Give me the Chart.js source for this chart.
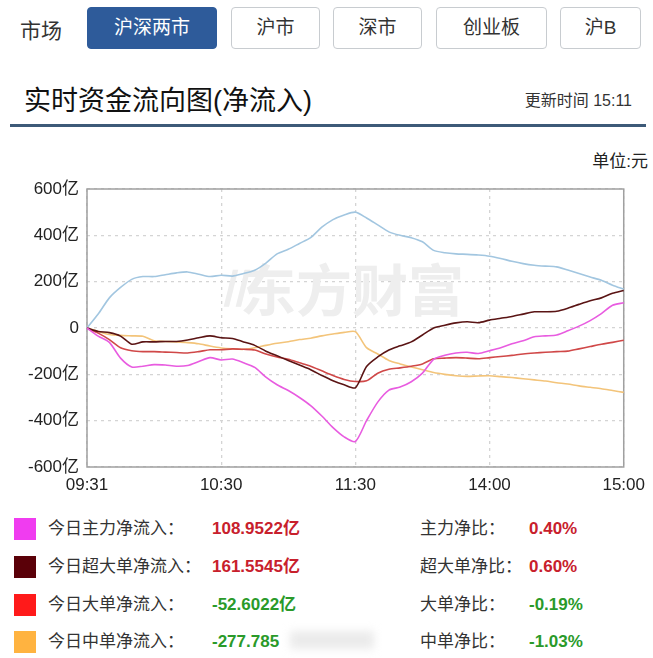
<!DOCTYPE html>
<html>
<head>
<meta charset="utf-8">
<script src="https://cdn.jsdelivr.net/npm/chart.js@4.4.1/dist/chart.umd.min.js"></script>
<style>
  body { margin: 0; width: 653px; height: 658px; background: #fff; font-family: "Liberation Sans", "Noto Sans CJK SC", sans-serif; color: #222; position: relative; overflow: hidden; }
  .abs { position: absolute; white-space: nowrap; }
  .btn { position: absolute; top: 7px; height: 42px; border: 1px solid #c8ccd0; border-radius: 4px; box-sizing: border-box; font-size: 19px; line-height: 40px; text-align: center; color: #333; background: #fff; }
  .btn.on { background: #2e5b9a; border-color: #2e5b9a; color: #fff; }
  .sq { position: absolute; left: 14px; width: 22px; height: 22px; }
  .lbl { position: absolute; font-size: 17px; color: #333; line-height: 22px; }
  .val { position: absolute; font-size: 17px; font-weight: bold; line-height: 22px; }
  .red { color: #c8202c; }
  .green { color: #2a9a2a; }
  #wrap { position: absolute; left: 0; top: 170px; width: 653px; height: 330px; }
</style>
</head>
<body>
<div class="abs" style="left:20px;top:14px;font-size:21px;color:#333;">市场</div>
<div class="btn on" style="left:87px;width:130px;">沪深两市</div>
<div class="btn" style="left:231px;width:89px;">沪市</div>
<div class="btn" style="left:333px;width:89px;">深市</div>
<div class="btn" style="left:436px;width:111px;">创业板</div>
<div class="btn" style="left:560px;width:81px;">沪B</div>

<div class="abs" style="left:24px;top:79px;font-size:27px;color:#111;">实时资金流向图(净流入)</div>
<div class="abs" style="right:21px;top:87px;font-size:16px;color:#333;">更新时间 15:11</div>
<div class="abs" style="left:10px;top:124px;width:636px;height:3px;background:#3d5a78;"></div>
<div class="abs" style="right:5px;top:147px;font-size:17px;color:#222;">单位:元</div>

<div id="wrap"><canvas id="flow"></canvas></div>

<div class="sq" style="top:518px;background:#f03cf0;"></div>
<div class="lbl" style="left:48px;top:518px;">今日主力净流入：</div>
<div class="val red" style="left:212px;top:518px;">108.9522亿</div>
<div class="lbl" style="left:420px;top:518px;">主力净比：</div>
<div class="val red" style="left:529px;top:518px;">0.40%</div>

<div class="sq" style="top:556px;background:#5a0008;"></div>
<div class="lbl" style="left:48px;top:556px;">今日超大单净流入：</div>
<div class="val red" style="left:212px;top:556px;">161.5545亿</div>
<div class="lbl" style="left:420px;top:556px;">超大单净比：</div>
<div class="val red" style="left:529px;top:556px;">0.60%</div>

<div class="sq" style="top:594px;background:#ff1a1a;"></div>
<div class="lbl" style="left:48px;top:594px;">今日大单净流入：</div>
<div class="val green" style="left:212px;top:594px;">-52.6022亿</div>
<div class="lbl" style="left:420px;top:594px;">大单净比：</div>
<div class="val green" style="left:529px;top:594px;">-0.19%</div>

<div class="sq" style="top:631px;background:#ffb340;"></div>
<div class="lbl" style="left:48px;top:631px;">今日中单净流入：</div>
<div class="val green" style="left:212px;top:631px;">-277.785</div>
<div class="abs" style="left:290px;top:631px;width:84px;height:18px;background:#ebebeb;filter:blur(4px);"></div>
<div class="lbl" style="left:420px;top:631px;">中单净比：</div>
<div class="val green" style="left:529px;top:631px;">-1.03%</div>

<script>
// trading minutes, 5 min steps (morning + afternoon)
const times = ["09:31","09:35","09:40","09:45","09:50","09:55","10:00","10:05","10:10","10:15","10:20","10:25","10:30",
  "10:35","10:40","10:45","10:50","10:55","11:00","11:05","11:10","11:15","11:20","11:25","11:30",
  "13:05","13:10","13:15","13:20","13:25","13:30","13:35","13:40","13:45","13:50","13:55","14:00",
  "14:05","14:10","14:15","14:20","14:25","14:30","14:35","14:40","14:45","14:50","14:55","15:00"];
const tickTimes = ["09:31", "10:30", "11:30", "14:00", "15:00"];

// 亿元
const mainFlow = [0,-35,-62,-130,-168,-165,-158,-160,-165,-162,-145,-128,-138,-134,-150,-170,-212,-245,-270,-300,-335,-380,-430,-470,-490,
  -400,-320,-268,-255,-232,-195,-135,-118,-108,-105,-110,-98,-85,-68,-55,-38,-34,-30,-12,8,32,62,98,109];
const superLarge = [0,-15,-20,-35,-70,-60,-60,-58,-58,-52,-42,-34,-42,-45,-60,-75,-100,-120,-140,-160,-180,-205,-228,-245,-258,
  -166,-125,-95,-77,-60,-30,0,12,22,27,23,34,42,50,60,70,70,72,85,102,118,130,150,162];
const large = [0,-22,-50,-85,-98,-102,-102,-104,-106,-108,-102,-94,-94,-90,-92,-95,-112,-125,-135,-150,-165,-185,-205,-222,-231,
  -228,-195,-178,-172,-165,-155,-133,-130,-128,-130,-133,-128,-123,-118,-112,-108,-105,-102,-100,-90,-80,-70,-62,-53];
const medium = [0,-15,-28,-32,-34,-36,-55,-58,-60,-63,-68,-78,-86,-90,-92,-85,-75,-66,-59,-50,-44,-34,-26,-19,-16,
  -85,-112,-140,-155,-168,-180,-192,-200,-206,-209,-207,-206,-210,-214,-219,-224,-229,-236,-242,-250,-256,-262,-270,-278];
const small = [0,60,130,175,210,222,222,230,238,242,232,222,228,224,235,249,280,320,340,365,390,435,468,488,500,
  475,445,415,400,390,372,335,325,320,318,315,310,300,288,278,271,267,264,250,235,220,206,185,168];

const watermark = {
  id: "watermark",
  beforeDatasetsDraw(chart) {
    const ctx = chart.ctx;
    ctx.save();
    ctx.fillStyle = "#eeeeee";
    ctx.font = 'bold 56px "Noto Sans CJK SC"';
    ctx.textBaseline = "middle";
    ctx.fillText("东方财富", 240, 120);
    ctx.font = 'bold italic 52px "Noto Sans CJK SC"';
    ctx.fillText("\u2223", 200, 118);
    ctx.fillText("\u2223", 212, 118);
    ctx.restore();
  }
};

const frame = {
  id: "frame",
  beforeDatasetsDraw(chart) {
    const a = chart.chartArea;
    const ctx = chart.ctx;
    ctx.save();
    ctx.strokeStyle = "#a0a0a0";
    ctx.lineWidth = 1.5;
    ctx.strokeRect(a.left, a.top, a.right - a.left, a.bottom - a.top);
    ctx.restore();
  }
};

const line = (data, color) => ({
  data: data, borderColor: color, borderWidth: 1.6, pointRadius: 0, tension: 0.25, fill: false
});

new Chart(document.getElementById("flow"), {
  type: "line",
  plugins: [watermark, frame],
  data: {
    labels: times,
    datasets: [
      line(mainFlow, "#e85ce0"),
      line(superLarge, "#5a1414"),
      line(large, "#d04848"),
      line(medium, "#f3c47a"),
      line(small, "#a2c6e0"),
    ],
  },
  options: {
    responsive: true,
    maintainAspectRatio: false,
    animation: false,
    layout: { padding: { left: 0, top: 19, right: 28, bottom: 0 } },
    plugins: { legend: { display: false }, tooltip: { enabled: false } },
    scales: {
      x: {
        afterFit: (s) => { s.height = 33; },
        border: { display: false, dash: [3, 4] },
        grid: { drawTicks: false, color: "#d4d4d4", lineWidth: 1.3 },
        ticks: {
          autoSkip: false, maxRotation: 0, padding: 8,
          color: "#222", font: { size: 17, family: '"Liberation Sans", "Noto Sans CJK SC"' },
          callback: function (v, i) {
            const t = times[i];
            return tickTimes.includes(t) ? t : null;
          },
        },
      },
      y: {
        min: -600, max: 600,
        afterFit: (s) => { s.width = 87; },
        border: { display: false, dash: [3, 4] },
        grid: { drawTicks: false, color: "#d4d4d4", lineWidth: 1.3 },
        ticks: {
          stepSize: 200, padding: 8,
          color: "#222", font: { size: 17, family: '"Liberation Sans", "Noto Sans CJK SC"' },
          callback: (v) => (v === 0 ? "0" : v + "亿"),
        },
      },
    },
  },
});
</script>
</body>
</html>
